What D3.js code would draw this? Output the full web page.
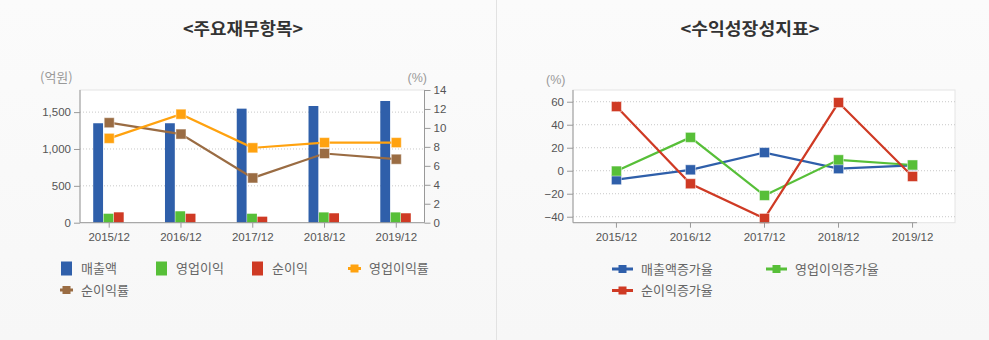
<!DOCTYPE html>
<html><head><meta charset="utf-8">
<script src="https://cdn.jsdelivr.net/npm/d3@7"></script>
<style>
html,body{margin:0;padding:0;background:#f8f8f8;}
svg{display:block;}
</style></head>
<body>
<svg id="chart" width="989" height="340"></svg>
<script>
// ---- data ----
const categories = ["2015/12","2016/12","2017/12","2018/12","2019/12"];
const revenue = [1349, 1349, 1547, 1583, 1651];          // 매출액 (억원)
const opIncome = [122, 155, 122, 140, 140];              // 영업이익
const netIncome = [141, 122, 82, 128, 128];              // 순이익
const opMargin = [8.9, 11.45, 7.9, 8.45, 8.45];          // 영업이익률 (%)
const netMargin = [10.55, 9.35, 4.72, 7.3, 6.7];         // 순이익률 (%)
const leftTicks = [0, 500, 1000, 1500];
const rightTicks = [0, 2, 4, 6, 8, 10, 12, 14];

const revGrowth = [-7.8, 0.8, 15.8, 1.8, 4.6];           // 매출액증가율
const opGrowth = [-0.3, 29, -21.5, 9.5, 5.0];            // 영업이익증가율
const netGrowth = [55.8, -11.3, -41.5, 59.3, -5.0];      // 순이익증가율
const growthTicks = [-40, -20, 0, 20, 40, 60];

const titles = ["<주요재무항목>", "<수익성장성지표>"];

const C = {blue:"#2f5faa", green:"#57bf38", red:"#cf3a24", orange:"#ffa20f", brown:"#9a6c43"};
const FONT = "'Liberation Sans', Arial, sans-serif";
const KFONT = "'Noto Sans CJK KR', sans-serif";

const svg = d3.select("#chart");

// background
const grad = svg.append("defs").append("linearGradient").attr("id","bg").attr("x1",0).attr("x2",0).attr("y1",0).attr("y2",1);
grad.append("stop").attr("offset","0").attr("stop-color","#fbfbfb");
grad.append("stop").attr("offset","1").attr("stop-color","#f7f7f7");
svg.append("rect").attr("width",989).attr("height",340).attr("fill","url(#bg)");
svg.append("line").attr("x1",496.5).attr("x2",496.5).attr("y1",0).attr("y2",340).attr("stroke","#e2e2e2");

// titles
svg.append("text").attr("x",243).attr("y",35).attr("text-anchor","middle")
  .attr("font-family",KFONT).attr("font-size",17).attr("font-weight","bold").attr("fill","#333")
  .attr("textLength",120).attr("lengthAdjust","spacingAndGlyphs").text(titles[0]);
svg.append("text").attr("x",750).attr("y",35).attr("text-anchor","middle")
  .attr("font-family",KFONT).attr("font-size",17).attr("font-weight","bold").attr("fill","#333")
  .attr("textLength",139).attr("lengthAdjust","spacingAndGlyphs").text(titles[1]);

function styleAxis(g){
  g.selectAll("path.domain").remove();
  g.selectAll("line").attr("stroke","#999");
  g.selectAll("text").attr("font-family",FONT).attr("font-size",11.5).attr("fill","#555");
}

// ===== LEFT CHART =====
const L = {x0:80, x1:424.5, y0:90, y1:222.7};
svg.append("rect").attr("x",L.x0).attr("y",L.y0).attr("width",L.x1-L.x0).attr("height",L.y1-L.y0)
  .attr("fill","#fff").attr("stroke","#e4e4e4");
const xL = d3.scalePoint().domain(categories).range([L.x0,L.x1]).padding(0.4);
const yL = d3.scaleLinear().domain([0,1800]).range([L.y1,L.y0]);
const yR = d3.scaleLinear().domain([0,14]).range([L.y1,L.y0]);

// grid
svg.append("g").selectAll("line").data(leftTicks.filter(d=>d>0)).join("line")
  .attr("x1",L.x0).attr("x2",L.x1).attr("y1",d=>yL(d)).attr("y2",d=>yL(d))
  .attr("stroke","#c8c8c8").attr("stroke-dasharray","1,2");

// bars
const sub = d3.scaleBand().domain(["rev","op","net"]).range([-15.5,15.5]).padding(0);
const barSeries = [{k:"rev",v:revenue,c:C.blue},{k:"op",v:opIncome,c:C.green},{k:"net",v:netIncome,c:C.red}];
barSeries.forEach(s=>{
  svg.append("g").selectAll("rect").data(categories).join("rect")
    .attr("x",(d)=>xL(d)+sub(s.k)).attr("width",sub.bandwidth()-0.5)
    .attr("y",(d,i)=>yL(s.v[i])).attr("height",(d,i)=>L.y1-yL(s.v[i]))
    .attr("fill",s.c);
});

// lines on right axis
function drawLine(g, xs, ys, data, color, w){
  const line = d3.line().x((d,i)=>xs(categories[i])+0.5).y(d=>ys(d));
  g.append("path").datum(data).attr("d",line).attr("fill","none").attr("stroke",color).attr("stroke-width",w||2.2);
  g.append("g").selectAll("rect").data(data).join("rect")
    .attr("x",(d,i)=>xs(categories[i])+0.5-5).attr("y",d=>ys(d)-5).attr("width",10).attr("height",10)
    .attr("fill",color).attr("stroke","rgba(255,255,255,0.45)").attr("stroke-width",1);
}
drawLine(svg, xL, yR, netMargin, C.brown);
drawLine(svg, xL, yR, opMargin, C.orange);

// axes
const gxL = svg.append("g").attr("transform",`translate(0,${L.y1})`).call(d3.axisBottom(xL).tickSize(5).tickPadding(5));
styleAxis(gxL);
svg.append("line").attr("x1",L.x0).attr("x2",L.x1).attr("y1",L.y1).attr("y2",L.y1).attr("stroke","#999");
const gyL = svg.append("g").attr("transform",`translate(${L.x0},0)`).call(d3.axisLeft(yL).tickValues(leftTicks).tickFormat(d3.format(",")).tickSize(6).tickPadding(3));
styleAxis(gyL);
svg.append("line").attr("x1",L.x0).attr("x2",L.x0).attr("y1",L.y0).attr("y2",L.y1).attr("stroke","#999");
const gyR = svg.append("g").attr("transform",`translate(${L.x1},0)`).call(d3.axisRight(yR).tickValues(rightTicks).tickSize(6).tickPadding(3));
styleAxis(gyR);
svg.append("line").attr("x1",L.x1).attr("x2",L.x1).attr("y1",L.y0).attr("y2",L.y1).attr("stroke","#999");

svg.append("text").attr("x",40).attr("y",82).attr("font-family",KFONT).attr("font-size",13).attr("fill","#999").text("(억원)");
svg.append("text").attr("x",427).attr("y",82).attr("text-anchor","end").attr("font-family",FONT).attr("font-size",12.5).attr("fill","#999").text("(%)");

// ===== RIGHT CHART =====
const R = {x0:573, x1:955, y0:90, y1:222.7};
svg.append("rect").attr("x",R.x0).attr("y",R.y0).attr("width",R.x1-R.x0).attr("height",R.y1-R.y0)
  .attr("fill","#fff").attr("stroke","#e4e4e4");
const x2 = d3.scalePoint().domain(categories).range([R.x0,R.x1]).padding(0.58);
const y2 = d3.scaleLinear().domain([-45.2,70.2]).range([R.y1,R.y0]);
svg.append("g").selectAll("line").data(growthTicks).join("line")
  .attr("x1",R.x0).attr("x2",R.x1).attr("y1",d=>y2(d)).attr("y2",d=>y2(d))
  .attr("stroke","#c8c8c8").attr("stroke-dasharray","1,2");

drawLine(svg, x2, y2, revGrowth, C.blue);
drawLine(svg, x2, y2, opGrowth, C.green);
drawLine(svg, x2, y2, netGrowth, C.red);

const gx2 = svg.append("g").attr("transform",`translate(0,${R.y1})`).call(d3.axisBottom(x2).tickSize(5).tickPadding(5));
styleAxis(gx2);
svg.append("line").attr("x1",R.x0).attr("x2",x2(categories[4])+5).attr("y1",R.y1).attr("y2",R.y1).attr("stroke","#999");
const gy2 = svg.append("g").attr("transform",`translate(${R.x0},0)`).call(d3.axisLeft(y2).tickValues(growthTicks).tickSize(6).tickPadding(3));
styleAxis(gy2);
svg.append("line").attr("x1",R.x0).attr("x2",R.x0).attr("y1",R.y0).attr("y2",R.y1).attr("stroke","#999");
svg.append("text").attr("x",546).attr("y",84).attr("font-family",FONT).attr("font-size",12.5).attr("fill","#999").text("(%)");

// ===== LEGENDS =====
function legendText(x,y,t){
  svg.append("text").attr("x",x).attr("y",y+4.5).attr("font-family",KFONT).attr("font-size",13).attr("fill","#666").text(t);
}
function legendBox(x,y,c,t){
  svg.append("rect").attr("x",x).attr("y",y-7).attr("width",11).attr("height",14).attr("fill",c);
  legendText(x+20,y,t);
}
function legendLine(x,y,c,t,w){
  svg.append("line").attr("x1",x).attr("x2",x+w).attr("y1",y).attr("y2",y).attr("stroke",c).attr("stroke-width",3);
  svg.append("rect").attr("x",x+w/2-4).attr("y",y-4).attr("width",8).attr("height",8).attr("fill",c);
  legendText(x+w+8,y,t);
}
const leftLegend = ["매출액","영업이익","순이익","영업이익률","순이익률"];
legendBox(61,268.5,C.blue,leftLegend[0]);
legendBox(156,268.5,C.green,leftLegend[1]);
legendBox(252,268.5,C.red,leftLegend[2]);
legendLine(348,268.5,C.orange,leftLegend[3],13);
legendLine(60,290,C.brown,leftLegend[4],13);

const rightLegend = ["매출액증가율","영업이익증가율","순이익증가율"];
legendLine(612,269,C.blue,rightLegend[0],21);
legendLine(766,269,C.green,rightLegend[1],21);
legendLine(612,290.5,C.red,rightLegend[2],21);
</script>
</body></html>
